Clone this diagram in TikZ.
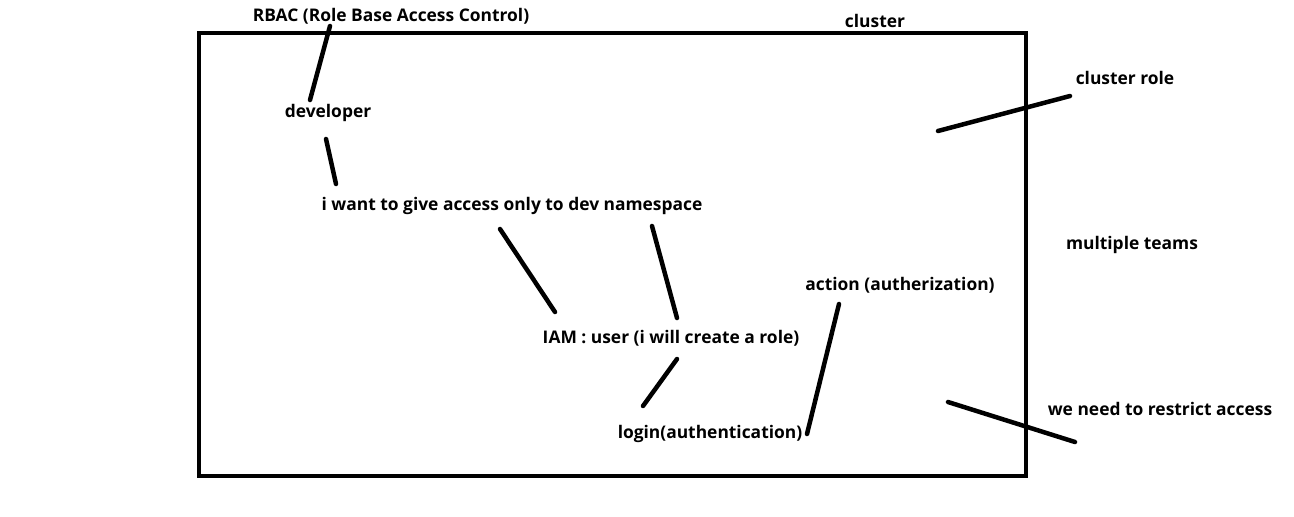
\documentclass[tikz,border=0pt]{standalone}
\usepackage{fontspec}
\setmainfont{Open Sans}
\begin{document}
\begin{tikzpicture}[x=1pt,y=-1pt,
  lbl/.style={font=\bfseries\fontsize{17.4}{20}\selectfont, inner sep=0pt, anchor=center},
  conn/.style={line width=4.5pt, line cap=round}]
\useasboundingbox (0,0) rectangle (1294,517);
\draw[line width=4pt] (199,33) rectangle (1026,476);
% labels
\node[lbl] (rbac) at (391,16) {RBAC (Role Base Access Control)};
\node[lbl] (cluster) at (875,21) {cluster};
\node[lbl] (crole) at (1125,78) {cluster role};
\node[lbl] (dev) at (328,113) {developer};
\node[lbl] (want) at (512,206) {i want to give access only to dev namespace};
\node[lbl] (teams) at (1132,245) {multiple teams};
\node[lbl] (action) at (900,285) {action (autherization)};
\node[lbl] (iam) at (671,338) {IAM : user (i will create a role)};
\node[lbl] (restrict) at (1160,409) {we need to restrict access};
\node[lbl] (login) at (710,434) {login(authentication)};
% connector endpoints
\coordinate (a1) at (330,26); \coordinate (a2) at (310,100);
\coordinate (b1) at (326,139); \coordinate (b2) at (336,184);
\coordinate (c1) at (500,229); \coordinate (c2) at (555,312);
\coordinate (d1) at (652,226); \coordinate (d2) at (677,318);
\coordinate (e1) at (677,359); \coordinate (e2) at (643,406);
\coordinate (f1) at (839,304); \coordinate (f2) at (807,434);
\coordinate (g1) at (938,131); \coordinate (g2) at (1070,96);
\coordinate (h1) at (948,402); \coordinate (h2) at (1075,442);
\draw[conn] (a1) -- (a2);
\draw[conn] (b1) -- (b2);
\draw[conn] (c1) -- (c2);
\draw[conn] (d1) -- (d2);
\draw[conn] (e1) -- (e2);
\draw[conn] (f1) -- (f2);
\draw[conn] (g1) -- (g2);
\draw[conn] (h1) -- (h2);
\end{tikzpicture}
\end{document}
